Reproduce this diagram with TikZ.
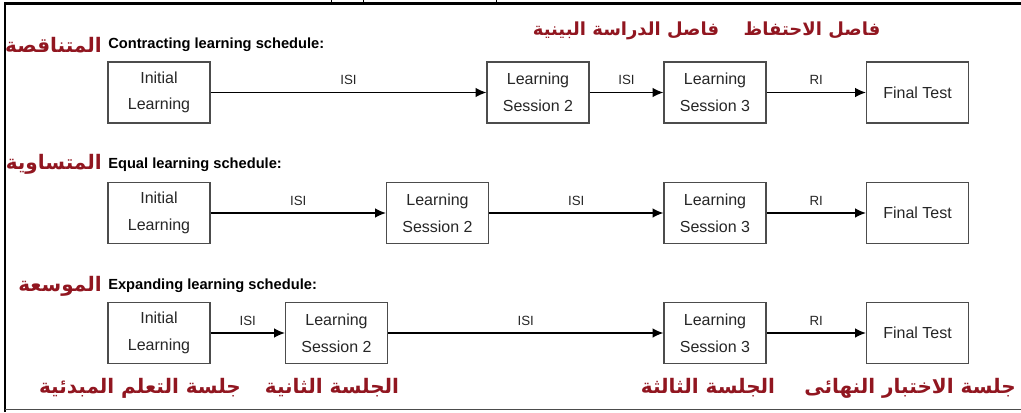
\documentclass[tikz,border=0pt]{standalone}
\usepackage{fontspec}
\setsansfont{Liberation Sans}
\newfontfamily\arabicfont[Script=Arabic]{DejaVu Sans}
\TeXXeTstate=1
\usetikzlibrary{arrows.meta}
\definecolor{arred}{RGB}{145,22,32}
\tikzset{
  stage/.style={draw=black!70, line width=0.9pt, minimum width=76.5pt, minimum height=45.75pt,
    inner sep=0pt, align=center, text=black!85, font=\sffamily\fontsize{12}{20}\selectfont},
  gap/.style={-{Latex[length=8pt,width=7pt]}, line width=0.9pt},
  gaplabel/.style={midway, above=2pt, text=black!85, font=\sffamily\fontsize{10}{12}\selectfont},
  plan/.style={anchor=west, inner sep=0pt, font=\sffamily\bfseries\fontsize{11}{13}\selectfont},
  artag/.style={inner sep=0pt, text=arred, font=\arabicfont\bfseries\fontsize{15}{18}\selectfont},
  artop/.style={artag, font=\arabicfont\bfseries\fontsize{13.5}{16}\selectfont},
}
\begin{document}
\begin{tikzpicture}[x=0.75pt, y=-0.75pt]
  \useasboundingbox (0,0) rectangle (1021,412);
  \draw[line width=1.6pt] (5,412) -- (5,3.5) -- (1021,3.5);
  \draw[line width=0.8pt, black!70] (5,409.5) -- (1021,409.5);
  \draw[line width=0.6pt] (331,0) -- (331,3) (363,0) -- (363,3) (496,0) -- (496,3);

  \node[artop] (retain) at (812,30) {\beginR فاصل الاحتفاظ\endR};
  \node[artop] (between) at (626,31) {\beginR فاصل الدراسة البينية\endR};

  \node[artag, anchor=east] (contractAr) at (102,45) {\beginR المتناقصة\endR};
  \node[plan] (contract) at (108,45) {Contracting learning schedule:};
  \node[stage] (c1) at (159,92.5) {Initial\\Learning};
  \node[stage] (c2) at (538,92.5) {Learning\\Session 2};
  \node[stage] (c3) at (715,92.5) {Learning\\Session 3};
  \node[stage] (c4) at (917.5,92.5) {Final Test};
  \draw[gap] (c1) -- node[gaplabel] {ISI} (c2);
  \draw[gap] (c2) -- node[gaplabel] {ISI} (c3);
  \draw[gap] (c3) -- node[gaplabel] {RI} (c4);

  \node[artag, anchor=east] (equalAr) at (102,164) {\beginR المتساوية\endR};
  \node[plan] (equal) at (108,165) {Equal learning schedule:};
  \node[stage] (e1) at (159,213) {Initial\\Learning};
  \node[stage] (e2) at (437.5,213) {Learning\\Session 2};
  \node[stage] (e3) at (715,213) {Learning\\Session 3};
  \node[stage] (e4) at (917.5,213) {Final Test};
  \draw[gap] (e1) -- node[gaplabel] {ISI} (e2);
  \draw[gap] (e2) -- node[gaplabel] {ISI} (e3);
  \draw[gap] (e3) -- node[gaplabel] {RI} (e4);

  \node[artag, anchor=east] (expandAr) at (102,286) {\beginR الموسعة\endR};
  \node[plan] (expand) at (108,286) {Expanding learning schedule:};
  \node[stage] (x1) at (159,333) {Initial\\Learning};
  \node[stage] (x2) at (336.5,333) {Learning\\Session 2};
  \node[stage] (x3) at (715,333) {Learning\\Session 3};
  \node[stage] (x4) at (917.5,333) {Final Test};
  \draw[gap] (x1) -- node[gaplabel] {ISI} (x2);
  \draw[gap] (x2) -- node[gaplabel] {ISI} (x3);
  \draw[gap] (x3) -- node[gaplabel] {RI} (x4);

  \node[artag] (firstAr) at (140,388) {\beginR جلسة التعلم المبدئية\endR};
  \node[artag] (secondAr) at (332,388) {\beginR الجلسة الثانية\endR};
  \node[artag] (thirdAr) at (708,388) {\beginR الجلسة الثالثة\endR};
  \node[artag] (testAr) at (910,388) {\beginR جلسة الاختبار النهائى\endR};
\end{tikzpicture}
\end{document}
